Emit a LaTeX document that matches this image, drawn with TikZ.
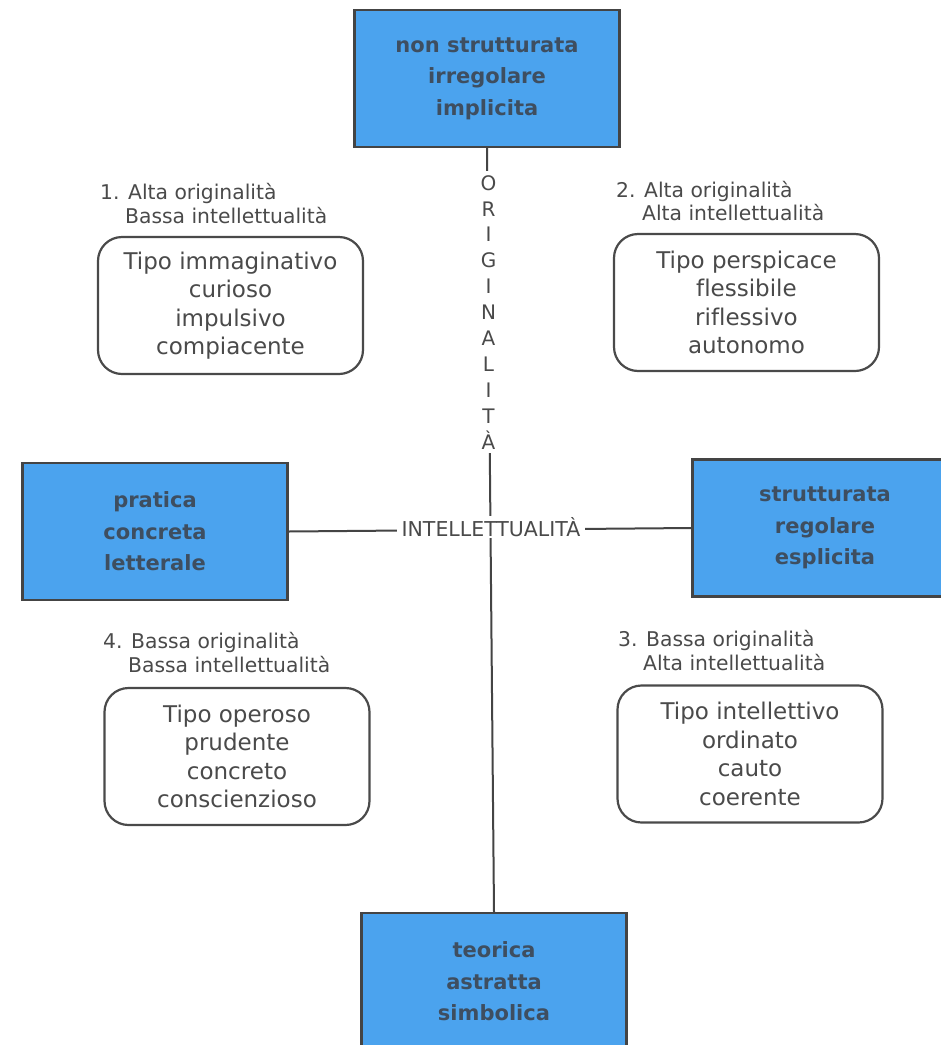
\documentclass[tikz,border=0pt]{standalone}
\usepackage{fontspec}
\setmainfont{DejaVu Sans}[Ligatures=NoCommon]
\usetikzlibrary{calc}
\definecolor{boxblue}{HTML}{4BA3EE}
\definecolor{boxtext}{HTML}{3E4E60}
\definecolor{inkgray}{HTML}{4A4A4A}
\definecolor{edgegray}{HTML}{444444}

\begin{document}
\begin{tikzpicture}[x=1pt,y=-1pt,
  bluebox/.style={draw=edgegray, line width=2.4pt, fill=boxblue, text=boxtext,
    font=\fontsize{21}{31.5}\selectfont\bfseries, align=center,
    minimum width=265pt, minimum height=137pt, inner sep=0pt},
  typebox/.style={draw=inkgray, line width=2.2pt, rounded corners=24pt,
    minimum width=265pt, minimum height=137pt, align=center, text=inkgray,
    font=\fontsize{23}{28.5}\selectfont, inner sep=0pt},
  header/.style={anchor=base west, text=inkgray,
    font=\fontsize{20.3}{24}\selectfont, inner sep=0pt},
  axis/.style={draw=edgegray, line width=2pt},
  axislabel/.style={fill=white, text=inkgray}]

\useasboundingbox (0,0) rectangle (941,1045);
\fill[white] (0,0) rectangle (941,1045);
\clip (0,0) rectangle (941,1045);

% pole boxes
\node[bluebox] (top)   at (487,78.5)  {non strutturata\\irregolare\\implicita};
\node[bluebox] (left)  at (155,531.5) {pratica\\concreta\\letterale};
\node[bluebox] (right) at (825,528)   {strutturata\\regolare\\esplicita};
\node[bluebox] (bot)   at (494,981.5) {teorica\\astratta\\simbolica};

% axes
\draw[axis] (top.south) -- (bot.north);
\draw[axis] (left.east) -- (right.west);

\node[axislabel, inner xsep=5pt, inner ysep=1pt,
  font=\fontsize{20.5}{24}\selectfont] (intel) at (491,527) {INTELLETTUALITÀ};
\node[axislabel, inner xsep=2pt, inner ysep=4pt, align=center,
  font=\fontsize{20}{25.9}\selectfont] (orig)
  at ($(top.south)!0.2148!(bot.north)$) {O\\R\\I\\G\\I\\N\\A\\L\\I\\T\\À};

% quadrant types
\node[typebox] (t1) at (230.5,305.5) {Tipo immaginativo\\curioso\\impulsivo\\compiacente};
\node[typebox] (t2) at (746.5,302.5) {Tipo perspicace\\flessibile\\riflessivo\\autonomo};
\node[typebox] (t4) at (237,756.5)   {Tipo operoso\\prudente\\concreto\\conscienzioso};
\node[typebox] (t3) at (750,754)     {Tipo intellettivo\\ordinato\\cauto\\coerente};

% quadrant headings
\node[header] (h1a) at (100,199) {1. Alta originalità};
\node[header] (h1b) at (125,223) {Bassa intellettualità};
\node[header] (h2a) at (616,197) {2. Alta originalità};
\node[header] (h2b) at (642,220) {Alta intellettualità};
\node[header] (h4a) at (103,648) {4. Bassa originalità};
\node[header] (h4b) at (128,672) {Bassa intellettualità};
\node[header] (h3a) at (618,646) {3. Bassa originalità};
\node[header] (h3b) at (643,670) {Alta intellettualità};

\end{tikzpicture}
\end{document}
